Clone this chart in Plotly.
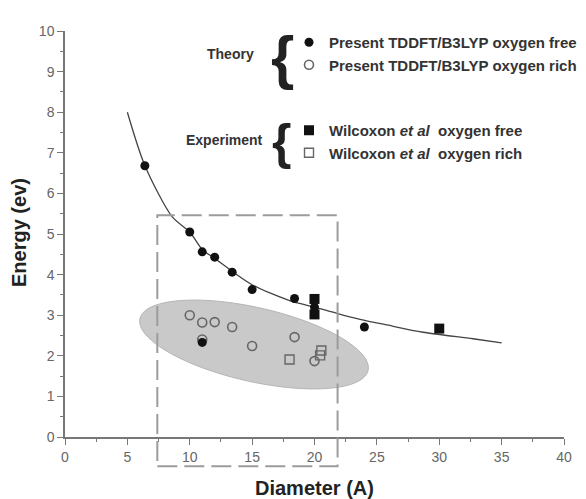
import numpy as np
import plotly.graph_objects as go

# ---------------- data ----------------
curve_x = [5, 6.4, 8.6, 10, 11, 12, 13.4, 15, 18, 20, 21.85, 23.65, 25.8, 28.7, 32.7, 35]
curve_y = [8.0, 6.69, 5.42, 5.05, 4.62, 4.40, 4.08, 3.75, 3.36, 3.2, 3.04, 2.90, 2.76, 2.58, 2.42, 2.32]

theory_free_x = [6.4, 10, 11, 12, 13.4, 15, 18.4, 20, 24, 11]
theory_free_y = [6.68, 5.05, 4.56, 4.43, 4.06, 3.63, 3.41, 3.2, 2.71, 2.33]

theory_rich_x = [10, 11, 12, 13.4, 15, 18.4, 20, 11]
theory_rich_y = [3.0, 2.82, 2.83, 2.71, 2.24, 2.46, 1.87, 2.40]

wil_free_x = [20, 20, 30]
wil_free_y = [3.4, 3.02, 2.67]

wil_rich_x = [18, 20.55, 20.45]
wil_rich_y = [1.91, 2.13, 2.01]

names = ["Present TDDFT/B3LYP oxygen free",
         "Present TDDFT/B3LYP oxygen rich",
         "Wilcoxon <i>et al</i>  oxygen free",
         "Wilcoxon <i>et al</i>  oxygen rich"]

X_RANGE = [0, 40]
Y_RANGE = [0, 10]

# layout geometry
W, H = 586, 499
ML, MR, MT, MB = 65, 22, 31, 62
PW, PH = W - ML - MR, H - MT - MB

fig = go.Figure()

fig.add_trace(go.Scatter(x=curve_x, y=curve_y, mode="lines",
                         line=dict(color="#444", width=1.3, shape="spline", smoothing=0.8),
                         showlegend=False, hoverinfo="skip"))

fig.add_trace(go.Scatter(x=theory_rich_x, y=theory_rich_y, mode="markers", name=names[1],
                         legendgroup="theory", legendrank=2,
                         marker=dict(symbol="circle-open", size=9, color="#666",
                                     line=dict(width=1.6, color="#666"))))
fig.add_trace(go.Scatter(x=theory_free_x, y=theory_free_y, mode="markers", name=names[0],
                         legendgroup="theory", legendrank=1,
                         marker=dict(symbol="circle", size=9, color="#111")))
fig.add_trace(go.Scatter(x=wil_rich_x, y=wil_rich_y, mode="markers", name=names[3],
                         legendgroup="exp", legendrank=4,
                         marker=dict(symbol="square-open", size=9, color="#666",
                                     line=dict(width=1.4, color="#666"))))
fig.add_trace(go.Scatter(x=wil_free_x, y=wil_free_y, mode="markers", name=names[2],
                         legendgroup="exp", legendrank=3,
                         marker=dict(symbol="square", size=10, color="#111")))

# ---------------- gray ellipse (defined in pixel space, converted to data) ----------
def px_to_data(px, py):
    x = X_RANGE[0] + (px - ML) / PW * (X_RANGE[1] - X_RANGE[0])
    y = Y_RANGE[0] + (MT + PH - py) / PH * (Y_RANGE[1] - Y_RANGE[0])
    return x, y

cx, cy, a, b, th = 254.0, 344.5, 117.0, 37.0, np.deg2rad(12.8)
t = np.linspace(0, 2 * np.pi, 90)
ex = cx + a * np.cos(t) * np.cos(th) - b * np.sin(t) * np.sin(th)
ey = cy + a * np.cos(t) * np.sin(th) + b * np.sin(t) * np.cos(th)
pts = [px_to_data(px, py) for px, py in zip(ex, ey)]
path = "M " + " L ".join(f"{x:.4f},{y:.4f}" for x, y in pts) + " Z"
fig.add_shape(type="path", path=path, xref="x", yref="y", layer="below",
              fillcolor="#c9c9c9", line=dict(color="#b5b5b5", width=1))

# ---------------- dashed rectangle (extends below the axis) ----------------
rx0, rx1, ry0, ry1 = 7.4, 21.85, -0.72, 5.46
fig.add_shape(type="rect", xref="paper", yref="paper",
              x0=(rx0 - X_RANGE[0]) / (X_RANGE[1] - X_RANGE[0]),
              x1=(rx1 - X_RANGE[0]) / (X_RANGE[1] - X_RANGE[0]),
              y0=(ry0 - Y_RANGE[0]) / (Y_RANGE[1] - Y_RANGE[0]),
              y1=(ry1 - Y_RANGE[0]) / (Y_RANGE[1] - Y_RANGE[0]),
              line=dict(color="#9c9c9c", width=2, dash="20px,7px"), layer="above")

def pxp(px):
    return (px - ML) / PW

def pyp(py):
    return (MT + PH - py) / PH

FONT = "Liberation Sans, Arial, sans-serif"

def label(text, px, py, size, weight="bold", color="#333", angle=0):
    return dict(text=text, x=pxp(px), y=pyp(py), xref="paper", yref="paper",
                xanchor="center", yanchor="middle", textangle=angle, showarrow=False,
                font=dict(family=FONT, size=size, color=color, weight=weight))

ann = [
    label("Theory", 230, 54, 14),
    label("Experiment", 224, 140, 14),
    label("{", 282, 57, 60, color="#222"),
    label("{", 281, 142, 50, color="#222"),
    label("Energy (ev)", 19, 233, 20, color="#222", angle=-90),
    label("Diameter (A)", 314.5, 488, 20, color="#222"),
]

fig.update_layout(
    width=W, height=H,
    margin=dict(l=ML, r=MR, t=MT, b=MB, autoexpand=False),
    paper_bgcolor="white", plot_bgcolor="white",
    annotations=ann,
    showlegend=True,
    legend=dict(xref="container", yref="container",
                x=289 / W, y=1 - 26 / H, xanchor="left", yanchor="top",
                traceorder="grouped", tracegroupgap=43,
                bgcolor="rgba(0,0,0,0)",
                font=dict(family=FONT, size=15, color="#333", weight="bold"),
                itemwidth=30),
)

axis_common = dict(showline=True, linecolor="#777", linewidth=1.5, showgrid=False,
                   zeroline=False, ticks="outside", ticklen=6, tickcolor="#777", tickwidth=1.3,
                   tickfont=dict(family=FONT, size=14, color="#666"))
fig.update_xaxes(range=X_RANGE, dtick=5, tick0=0,
                 minor=dict(dtick=2.5, ticks="outside", ticklen=3, tickcolor="#777"),
                 **axis_common)
fig.update_yaxes(range=Y_RANGE, dtick=1, tick0=0,
                 minor=dict(dtick=0.5, ticks="outside", ticklen=3, tickcolor="#777"),
                 **axis_common)

fig.write_html("out.html")
